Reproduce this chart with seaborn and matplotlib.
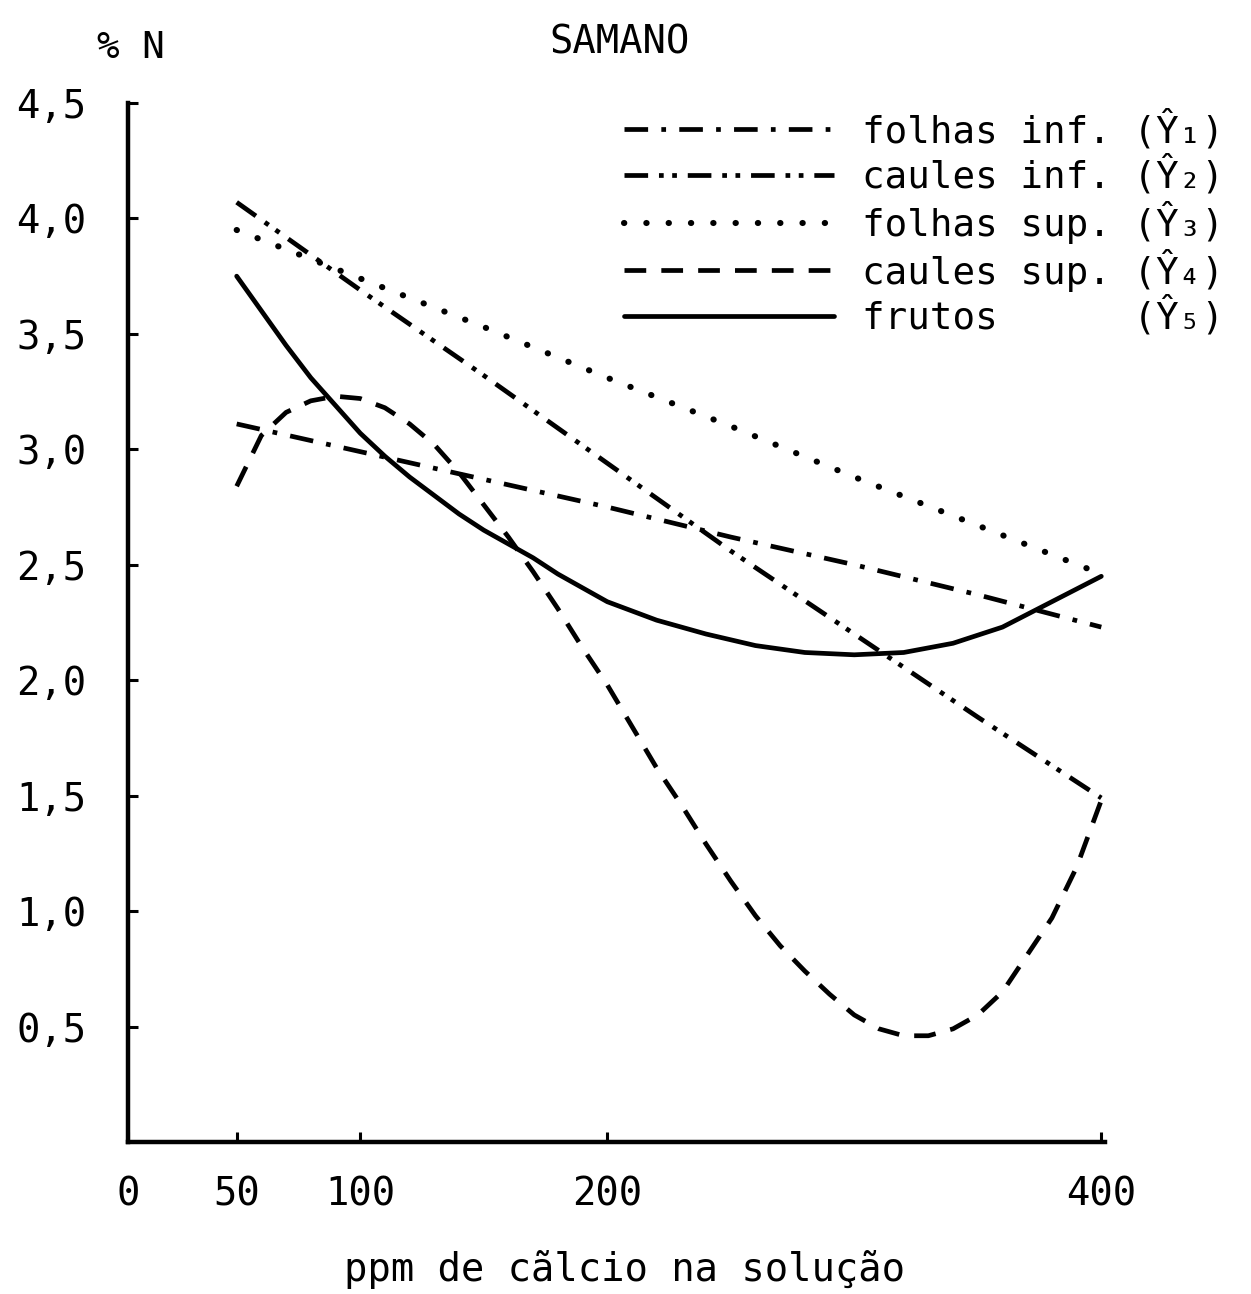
import matplotlib
matplotlib.use("Agg")
import matplotlib.pyplot as plt
import seaborn as sns
import pandas as pd

# ---------------- data ----------------
x_y1 = [50, 75, 100, 125, 150, 175, 200, 250, 300, 350, 400]
y1_folhas_inf = [3.11, 3.05, 2.99, 2.93, 2.87, 2.81, 2.75, 2.62, 2.50, 2.37, 2.23]

x_y2 = [50, 100, 150, 200, 250, 300, 350, 400]
y2_caules_inf = [4.07, 3.69, 3.32, 2.94, 2.56, 2.20, 1.84, 1.49]

x_y3 = [50, 100, 150, 200, 250, 300, 350, 400]
y3_folhas_sup = [3.95, 3.74, 3.53, 3.31, 3.10, 2.88, 2.67, 2.46]

x_y4 = [50, 60, 70, 80, 90, 100, 110, 120, 130, 140, 150, 160, 170, 180, 190,
        200, 210, 220, 230, 240, 250, 260, 270, 280, 290, 300, 310, 320, 330,
        340, 350, 360, 370, 380, 390, 400]
y4_caules_sup = [2.84, 3.06, 3.16, 3.21, 3.23, 3.22, 3.18, 3.11, 3.02, 2.90,
                 2.76, 2.62, 2.47, 2.31, 2.14, 1.98, 1.80, 1.62, 1.46, 1.29,
                 1.13, 0.98, 0.85, 0.74, 0.64, 0.55, 0.49, 0.46, 0.46, 0.49,
                 0.55, 0.65, 0.81, 0.97, 1.19, 1.48]

x_y5 = [50, 60, 70, 80, 90, 100, 110, 120, 130, 140, 150, 160, 170, 180, 190,
        200, 220, 240, 260, 280, 300, 320, 340, 360, 380, 400]
y5_frutos = [3.75, 3.60, 3.45, 3.31, 3.19, 3.07, 2.97, 2.88, 2.80, 2.72, 2.65,
             2.59, 2.53, 2.46, 2.40, 2.34, 2.26, 2.20, 2.15, 2.12, 2.11, 2.12,
             2.16, 2.23, 2.34, 2.45]

legend_labels = ["folhas inf. (Ŷ₁)", "caules inf. (Ŷ₂)", "folhas sup. (Ŷ₃)",
                 "caules sup. (Ŷ₄)", "frutos      (Ŷ₅)"]

x_tick_values = [0, 50, 100, 200, 400]
x_tick_labels = ["0", "50", "100", "200", "400"]
y_tick_values = [0.5, 1.0, 1.5, 2.0, 2.5, 3.0, 3.5, 4.0, 4.5]
y_tick_labels = ["0,5", "1,0", "1,5", "2,0", "2,5", "3,0", "3,5", "4,0", "4,5"]

title = "SAMANO"
y_title = "% N"
x_title = "ppm de cãlcio na solução"

# ---------------- style ----------------
sns.set_theme(style="white")
plt.rcParams["font.family"] = ["DejaVu Sans Mono", "DejaVu Sans"]

fig = plt.figure(figsize=(12.51, 12.94), dpi=100)
ax = fig.add_axes([0.1023, 0.1175, 0.7810, 0.8029])

series = [
    (x_y1, y1_folhas_inf, (0, (5, 2.8, 1, 2.8)), "butt", 3.4),
    (x_y2, y2_caules_inf, (0, (5, 2.3, 1, 1.8, 1, 2.3)), "butt", 3.4),
    (x_y3, y3_folhas_sup, (0, (0.05, 3.6)), "round", 4.4),
    (x_y4, y4_caules_sup, (0, (4.6, 3.2)), "butt", 3.4),
    (x_y5, y5_frutos, "-", "butt", 3.4),
]
for (xs, ys, ls, cap, lw), lab in zip(series, legend_labels):
    df = pd.DataFrame({"x": xs, "y": ys})
    sns.lineplot(data=df, x="x", y="y", ax=ax, color="black", linewidth=lw,
                 linestyle=ls, dash_capstyle=cap, label=lab, sort=False)

x_left = 6
ax.set_xlim(x_left, 401.5)
ax.set_ylim(0, 4.5)

tick_pos = [x_left if v == 0 else v for v in x_tick_values]
ax.set_xticks(tick_pos)
ax.set_xticklabels(x_tick_labels)
ax.set_yticks(y_tick_values)
ax.set_yticklabels(y_tick_labels)

ax.tick_params(axis="both", which="major", direction="in", length=7, width=2.2,
               color="black", labelsize=28, labelcolor="black")
ax.tick_params(axis="y", pad=30)
ax.tick_params(axis="x", pad=24)
ax.xaxis.set_ticks_position("bottom")
ax.yaxis.set_ticks_position("left")

for side in ["top", "right"]:
    ax.spines[side].set_visible(False)
for side in ["left", "bottom"]:
    ax.spines[side].set_color("black")
    ax.spines[side].set_linewidth(3.2)

ax.set_xlabel("")
ax.set_ylabel("")

fig.text(0.495, 0.967, title, ha="center", va="center", fontsize=28, color="black")
fig.text(0.105, 0.963, y_title, ha="center", va="center", fontsize=27, color="black")
fig.text(0.499, 0.019, x_title, ha="center", va="center", fontsize=28, color="black")

handles, labels = ax.get_legend_handles_labels()
leg = ax.legend(handles, labels, loc="upper left",
                bbox_to_anchor=(0.499, 0.915), bbox_transform=fig.transFigure,
                frameon=False, fontsize=27, handlelength=5.6, handletextpad=0.75,
                labelspacing=0.13, borderpad=0, borderaxespad=0)
for t in leg.get_texts():
    t.set_color("black")

fig.savefig("out.png", dpi=100, facecolor="white")
